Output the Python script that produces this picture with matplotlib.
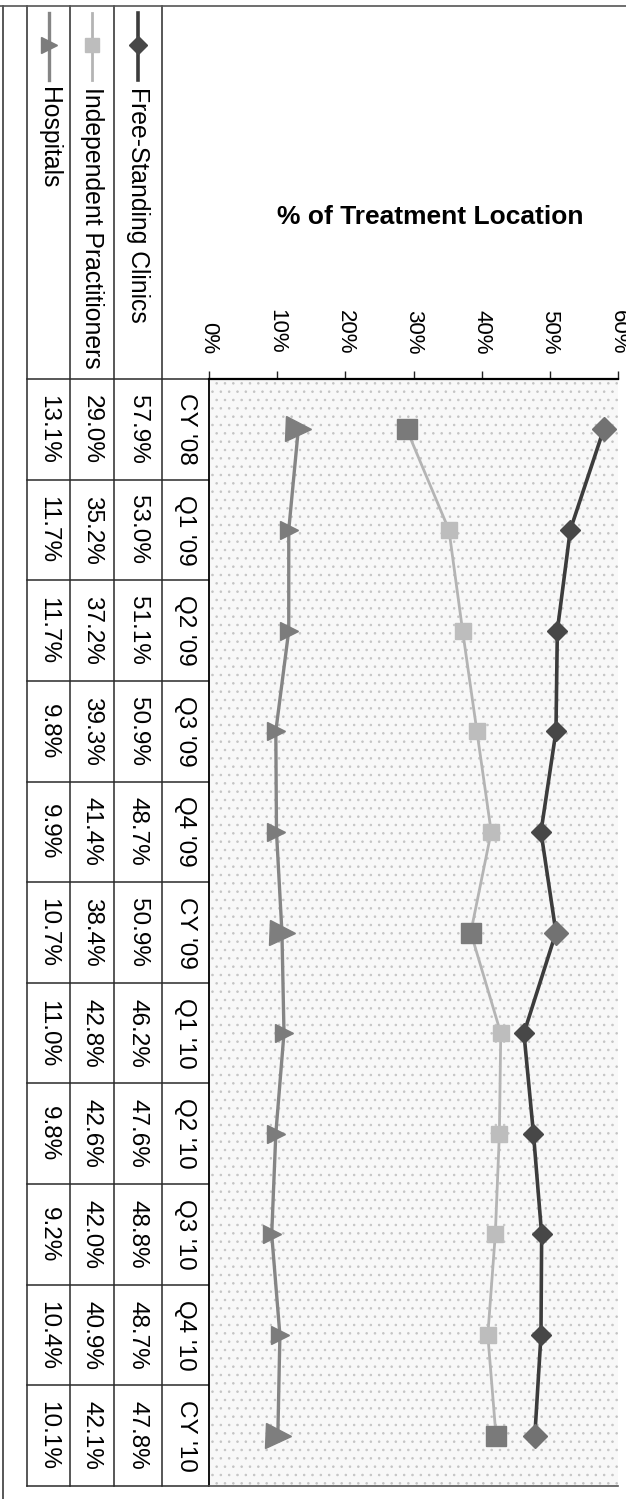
import numpy as np
import matplotlib.pyplot as plt
import matplotlib.transforms as mtransforms
from matplotlib.patches import Rectangle

plt.rcParams['font.family'] = ['Liberation Sans', 'DejaVu Sans']
plt.rcParams['hatch.linewidth'] = 0.6

# data
categories = ["CY '08", "Q1 '09", "Q2 '09", "Q3 '09", "Q4 '09", "CY '09",
              "Q1 '10", "Q2 '10", "Q3 '10", "Q4 '10", "CY '10"]
free_standing = [57.9, 53.0, 51.1, 50.9, 48.7, 50.9, 46.2, 47.6, 48.8, 48.7, 47.8]
independent = [29.0, 35.2, 37.2, 39.3, 41.4, 38.4, 42.8, 42.6, 42.0, 40.9, 42.1]
hospitals = [13.1, 11.7, 11.7, 9.8, 9.9, 10.7, 11.0, 9.8, 9.2, 10.4, 10.1]
series_names = ['Free-Standing Clinics', 'Independent Practitioners', 'Hospitals']
value_ticks = [0, 10, 20, 30, 40, 50, 60]
title = '% of Treatment Location'

W, H = 626, 1499
fig = plt.figure(figsize=(W / 100, H / 100), dpi=100)

# full-figure frame in pixel units (y down) for the table rules
frame = fig.add_axes([0, 0, 1, 1])
frame.set_xlim(0, W)
frame.set_ylim(H, 0)
frame.axis('off')

x0, x1, y0, y1 = 209, 618, 379, 1486
ax = fig.add_axes([x0 / W, 1 - y1 / H, (x1 - x0) / W, (y1 - y0) / H])

pos = np.arange(len(categories))
is_cy = np.array([c.startswith('CY') for c in categories])

# chart is turned a quarter turn: values run right, categories run down
styles = [
    dict(color='#3c3c3c', lw=2.6, marker='D', ms=10, mfc='#474747',
         cy_ms=12.5, cy_color='#727272', col=138),
    dict(color='#b4b4b4', lw=2.0, marker='s', ms=11, mfc='#bdbdbd',
         cy_ms=15, cy_color='#7a7a7a', col=92),
    dict(color='#858585', lw=2.4, marker='>', ms=13, mfc='#7c7c7c',
         cy_ms=18, cy_color='#7e7e7e', col=48.5),
]
all_series = [free_standing, independent, hospitals]

ax.set_facecolor('#f8f8f8')
ax.add_patch(Rectangle((0, 0), 1, 1, transform=ax.transAxes, facecolor='none',
                       edgecolor='#c4c4c4', hatch='..', lw=0, zorder=0))

for vals, st in zip(all_series, styles):
    v = np.array(vals)
    ax.plot(v, pos, color=st['color'], lw=st['lw'], marker=st['marker'],
            ms=st['ms'], mfc=st['mfc'], mec=st['mfc'], zorder=3)
    ax.plot(v[is_cy], pos[is_cy], ls='none', marker=st['marker'], ms=st['cy_ms'],
            mfc=st['cy_color'], mec=st['cy_color'], zorder=4)

ax.set_xlim(0, 60)
ax.set_ylim(len(categories) - 0.5, -0.5)
ax.set_yticks([])
ax.xaxis.tick_top()
ax.set_xticks(value_ticks)
ax.set_xticklabels([f'{v}%' for v in value_ticks], rotation=-90, fontsize=16)
ax.tick_params(axis='x', direction='out', length=6, width=1, pad=12, color='#222')
ax.spines['right'].set_visible(False)
ax.spines['top'].set_linewidth(1.6)
ax.spines['left'].set_linewidth(1.3)
ax.spines['bottom'].set_color('#555555')
ax.spines['bottom'].set_linewidth(1.2)

# table beside the plot
blend = mtransforms.blended_transform_factory(frame.transData, ax.transData)
line_kw = dict(color='#2a2a2a', lw=1.1)
for j in range(len(categories) + 1):
    frame.plot([27, x0], [j - 0.5, j - 0.5], transform=blend, clip_on=False, **line_kw)
for xv in [27, 70, 114, 162]:
    frame.plot([xv, xv], [6, y1], **line_kw)
frame.plot([3, 3], [6, H], **line_kw)
frame.plot([0, W], [6, 6], color='#555555', lw=1.2)

for j, cat in enumerate(categories):
    frame.text(185.5, j, cat, transform=blend, rotation=-90, ha='center',
               va='center', fontsize=17.5)
for vals, st in zip(all_series, styles):
    for j, v in enumerate(vals):
        frame.text(st['col'], j, f'{v:.1f}%', transform=blend, rotation=-90,
                   ha='center', va='center', fontsize=17.5)

# legend keys in the header cells
for name, st in zip(series_names, styles):
    c = st['col']
    frame.plot([c, c], [13, 80], color=st['color'], lw=st['lw'])
    frame.plot([c], [45], marker=st['marker'], ms=st['ms'] * 0.9,
               mfc=st['mfc'], mec=st['mfc'], ls='none')
    frame.text(c, 87, name, rotation=-90, ha='center', va='top', fontsize=17.8)

fig.text(430 / W, 1 - 217 / H, title, ha='center', va='center',
         fontsize=19, fontweight='bold')

fig.savefig('out.png', dpi=100)
